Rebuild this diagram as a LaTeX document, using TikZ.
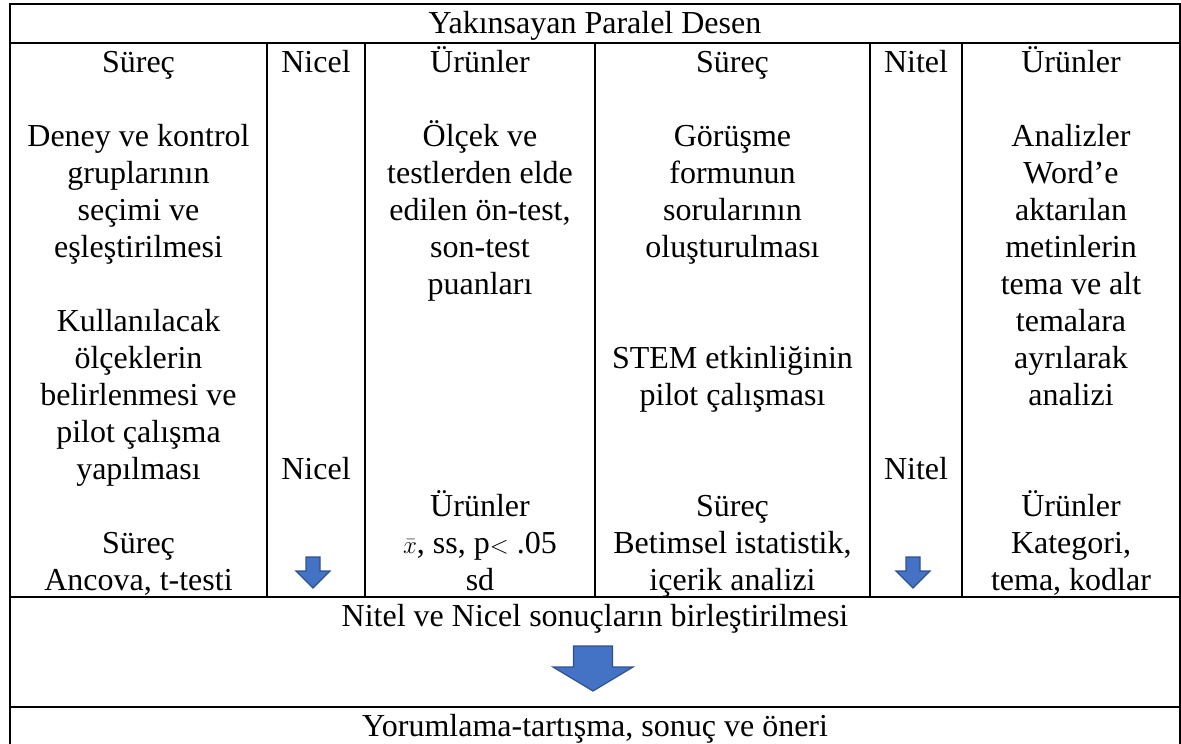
\documentclass[tikz,border=0pt]{standalone}
\usepackage{fontspec}
\setmainfont{Liberation Serif}
\definecolor{arrowblue}{HTML}{4472C4}
\definecolor{arrowedge}{HTML}{2F528F}

\begin{document}
\begin{tikzpicture}[x=1pt, y=-1pt,
	cell/.style={align=center, anchor=base, inner sep=0pt, font=\fontsize{32}{37}\selectfont},
	rule/.style={line width=2pt},
	blockarrow/.style={fill=arrowblue, draw=arrowedge, line width=1.2pt, line join=miter}]
	\useasboundingbox (0,0) rectangle (1181,744);

	% table frame and rules
	\draw[rule] (10,744) -- (10,4) -- (1180,4) -- (1180,744);
	\draw[rule] (10,43) -- (1180,43);
	\draw[rule] (10,597) -- (1180,597);
	\draw[rule] (10,707) -- (1180,707);
	\foreach \x in {267,365,595,870,962}
		\draw[rule] (\x,43) -- (\x,597);

	\node (title) [cell] at (595,33) {Yakınsayan Paralel Desen};

	% nicel side (base = last line)
	\node (surec) [cell] at (138.5,72) {Süreç};
	\node (deney) [cell] at (138.5,257) {Deney ve kontrol\\gruplarının\\seçimi ve\\eşleştirilmesi};
	\node (olcek) [cell] at (138.5,479) {Kullanılacak\\ölçeklerin\\belirlenmesi ve\\pilot çalışma\\yapılması};
	\node (ancova) [cell] at (138.5,590) {Süreç\\Ancova, t-testi};
	\node (nicel) [cell] at (316,72) {Nicel};
	\node (nicelalt) [cell] at (316,479) {Nicel};
	\node (urunler) [cell] at (480,72) {Ürünler};
	\node (puan) [cell] at (480,294) {Ölçek ve\\testlerden elde\\edilen ön-test,\\son-test\\puanları};
	\node (istatistik) [cell] at (480,590) {Ürünler\\$\bar{x}$, ss, p$<$ .05\\sd};

	% nitel side
	\node (surecnitel) [cell] at (732.5,72) {Süreç};
	\node (gorusme) [cell] at (732.5,257) {Görüşme\\formunun\\sorularının\\oluşturulması};
	\node (stem) [cell] at (732.5,405) {STEM etkinliğinin\\pilot çalışması};
	\node (betimsel) [cell] at (732.5,590) {Süreç\\Betimsel istatistik,\\içerik analizi};
	\node (nitel) [cell] at (916,72) {Nitel};
	\node (nitelalt) [cell] at (916,479) {Nitel};
	\node (urunlernitel) [cell] at (1071,72) {Ürünler};
	\node (analiz) [cell] at (1071,405) {Analizler\\Word’e\\aktarılan\\metinlerin\\tema ve alt\\temalara\\ayrılarak\\analizi};
	\node (kategori) [cell] at (1071,590) {Ürünler\\Kategori,\\tema, kodlar};

	% merge and result
	\node (birlestirme) [cell] at (595,626) {Nitel ve Nicel sonuçların birleştirilmesi};
	\node (yorum) [cell] at (595,736) {Yorumlama-tartışma, sonuç ve öneri};

	\draw[blockarrow] (306,557) -- (320,557) -- (320,571) -- (330,571) -- (313,588) -- (296,571) -- (306,571) -- cycle;
	\draw[blockarrow] (906,557) -- (920,557) -- (920,571) -- (930,571) -- (913,588) -- (896,571) -- (906,571) -- cycle;
	\draw[blockarrow] (573.5,646) -- (612.5,646) -- (612.5,667) -- (633,667) -- (593,691) -- (553,667) -- (573.5,667) -- cycle;
\end{tikzpicture}
\end{document}
